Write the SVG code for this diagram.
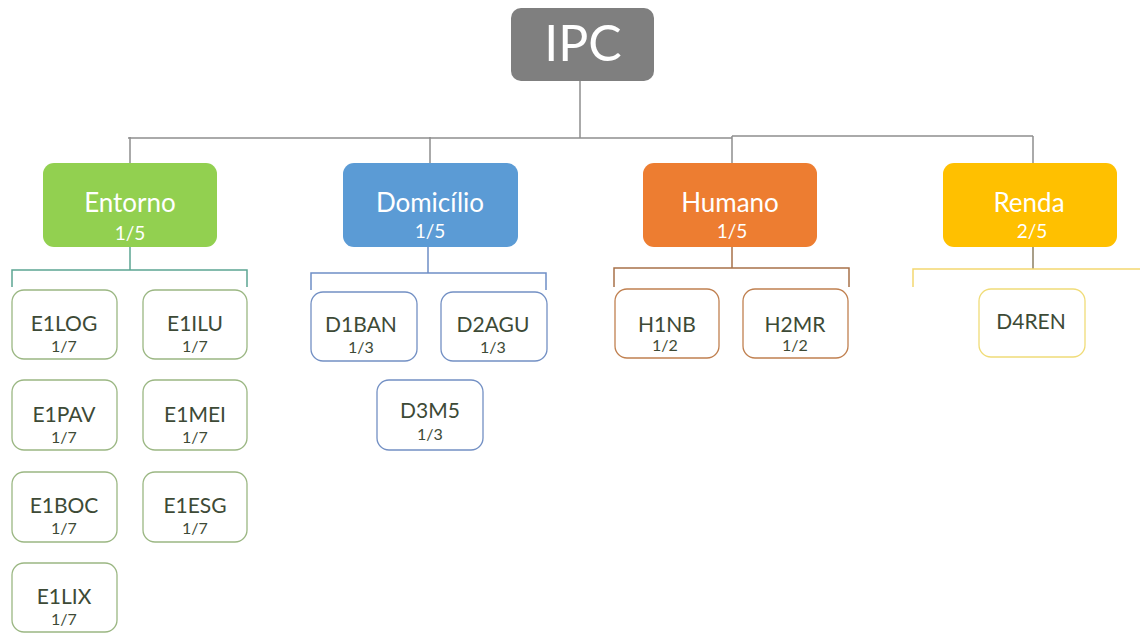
<svg xmlns="http://www.w3.org/2000/svg" width="1140" height="633" viewBox="0 0 1140 633">
<style>
text{font-family:Lato,"Open Sans","Liberation Sans",sans-serif;text-anchor:middle}
.hd{fill:#ffffff;font-size:26px}
.hs{fill:#ffffff;font-size:19px}
.lb{fill:#3d4a36;font-size:21px}
.sb{fill:#3d4a36;font-size:16px}
.sub{fill:#ffffff;stroke-width:1.3}
.ge{stroke:#9bb783}
.gd{stroke:#7390c4}
.gh{stroke:#c08050}
.gr{stroke:#f0dc78}
.main{fill:none;stroke:#8f8f8f;stroke-width:1.5}
</style>
<g id="connectors">
<path class="main" d="M580 81V138M128 138H732M732 136H1033M130 137V163M430 137V163M732 136V163M1033 136V163"/>
<path fill="none" stroke="#5ca593" stroke-width="1.5" d="M130 247V270M12 287V270H247V287"/>
<path fill="none" stroke="#6f8ec6" stroke-width="1.5" d="M428 247V273M311 290V273H546V290"/>
<path fill="none" stroke="#a8724a" stroke-width="1.5" d="M732 247V268M614 287V268H849V287"/>
<path fill="none" stroke="#8c7f62" stroke-width="1.5" d="M1033 247V269"/>
<path fill="none" stroke="#f3d870" stroke-width="1.5" d="M913 287V269H1140"/>
</g>
<g id="ipc"><rect x="511" y="8" width="143" height="73" rx="10" fill="#7f7f7f"/><text x="583" y="61" fill="#fff" font-size="50">IPC</text></g>
<g id="entorno"><rect x="43" y="163" width="174" height="84" rx="11" fill="#92d050"/><text class="hd" x="130" y="212">Entorno</text><text class="hs" x="130" y="240">1/5</text></g>
<g id="domicilio"><rect x="343" y="163" width="175" height="84" rx="11" fill="#5b9bd5"/><text class="hd" x="430" y="212">Domicílio</text><text class="hs" x="430" y="238">1/5</text></g>
<g id="humano"><rect x="643" y="163" width="174" height="84" rx="11" fill="#ed7d31"/><text class="hd" x="730" y="212">Humano</text><text class="hs" x="732" y="238">1/5</text></g>
<g id="renda"><rect x="943" y="163" width="174" height="84" rx="11" fill="#ffc000"/><text class="hd" x="1029" y="212">Renda</text><text class="hs" x="1032" y="238">2/5</text></g>
<g id="e1log"><rect class="sub ge" x="12" y="290" width="105" height="69" rx="12"/><text class="lb" x="64" y="331">E1LOG</text><text class="sb" x="64" y="352">1/7</text></g>
<g id="e1ilu"><rect class="sub ge" x="143" y="290" width="104" height="69" rx="12"/><text class="lb" x="195" y="331">E1ILU</text><text class="sb" x="195" y="352">1/7</text></g>
<g id="e1pav"><rect class="sub ge" x="12" y="380" width="105" height="70" rx="12"/><text class="lb" x="64" y="422">E1PAV</text><text class="sb" x="64" y="443">1/7</text></g>
<g id="e1mei"><rect class="sub ge" x="143" y="380" width="104" height="70" rx="12"/><text class="lb" x="195" y="422">E1MEI</text><text class="sb" x="195" y="443">1/7</text></g>
<g id="e1boc"><rect class="sub ge" x="12" y="472" width="105" height="70" rx="12"/><text class="lb" x="64" y="513">E1BOC</text><text class="sb" x="64" y="534">1/7</text></g>
<g id="e1esg"><rect class="sub ge" x="143" y="472" width="104" height="70" rx="12"/><text class="lb" x="195" y="513">E1ESG</text><text class="sb" x="195" y="534">1/7</text></g>
<g id="e1lix"><rect class="sub ge" x="12" y="563" width="105" height="69" rx="12"/><text class="lb" x="64" y="604">E1LIX</text><text class="sb" x="64" y="625">1/7</text></g>
<g id="d1ban"><rect class="sub gd" x="311" y="292" width="106" height="69" rx="12"/><text class="lb" x="361" y="332">D1BAN</text><text class="sb" x="361" y="353">1/3</text></g>
<g id="d2agu"><rect class="sub gd" x="441" y="292" width="106" height="69" rx="12"/><text class="lb" x="493" y="332">D2AGU</text><text class="sb" x="493" y="353">1/3</text></g>
<g id="d3m5"><rect class="sub gd" x="377" y="380" width="106" height="70" rx="12"/><text class="lb" x="430" y="418">D3M5</text><text class="sb" x="430" y="440">1/3</text></g>
<g id="h1nb"><rect class="sub gh" x="615" y="289" width="104" height="69" rx="12"/><text class="lb" x="667" y="332">H1NB</text><text class="sb" x="665" y="351">1/2</text></g>
<g id="h2mr"><rect class="sub gh" x="743" y="289" width="105" height="69" rx="12"/><text class="lb" x="795" y="332">H2MR</text><text class="sb" x="795" y="351">1/2</text></g>
<g id="d4ren"><rect class="sub gr" x="979" y="289" width="106" height="68" rx="12"/><text class="lb" x="1031" y="329">D4REN</text></g>
</svg>
